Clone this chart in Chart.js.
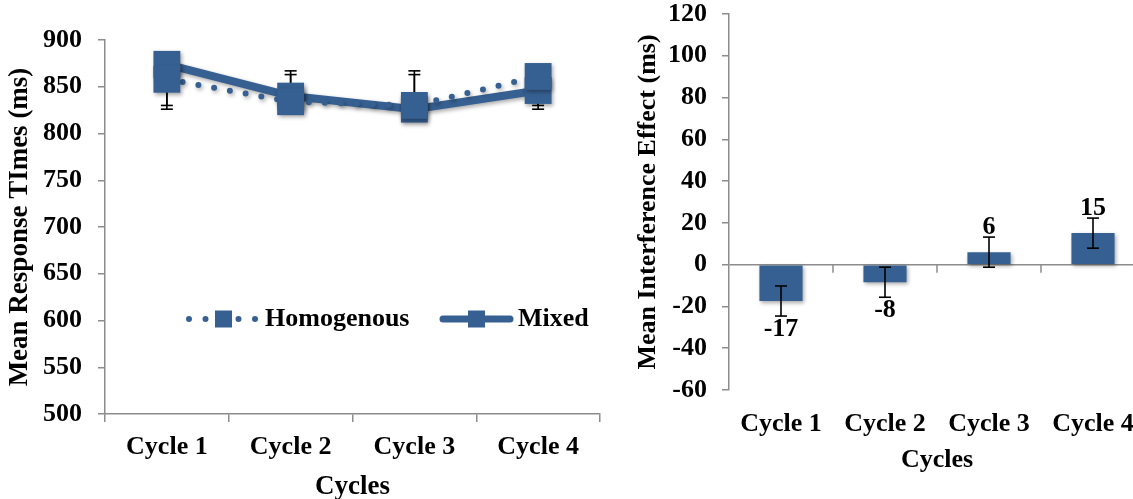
<!DOCTYPE html>
<html><head><meta charset="utf-8">
<script src="https://cdn.jsdelivr.net/npm/chart.js@4.4.0/dist/chart.umd.min.js"></script>
<style>
html,body{margin:0;padding:0;background:#fff;overflow:hidden;width:1133px;height:499px;}
#left{position:absolute;left:0;top:0;width:620px;height:499px;}
#right{position:absolute;left:620px;top:0;width:540px;height:499px;}
</style></head><body>
<div id="left"><canvas id="c1" width="620" height="499"></canvas></div>
<div id="right"><canvas id="c2" width="540" height="499"></canvas></div>
<script>
// ---- data ----
const categories = ['Cycle 1', 'Cycle 2', 'Cycle 3', 'Cycle 4'];
const seriesNames = ['Homogenous', 'Mixed'];
const homogenous = [858, 834, 830, 861];
const mixed = [874, 840, 826, 846];
const homogenousErr = [-28, 33, 33, -31];
const mixedErr = [-48, 23, 41, -20];
const rtTicks = [500, 550, 600, 650, 700, 750, 800, 850, 900];
const interference = [-17.4, -8.4, 6, 15.1];
const interferenceErr = [7.2, 7.2, 7.2, 7.2];
const ieTicks = [-60, -40, -20, 0, 20, 40, 60, 80, 100, 120];

const BLUE = '#376092';
const AXIS = '#8c8c8c';
const FONT = '"Liberation Serif", "Times New Roman", serif';
Chart.defaults.font.family = FONT;
Chart.defaults.font.size = 26;
Chart.defaults.font.weight = 'bold';
Chart.defaults.color = '#000';
Chart.defaults.animation = false;

const shadowPlugin = {
  id: 'shadow',
  beforeDatasetDraw(chart) {
    const c = chart.ctx; c.save();
    c.shadowColor = 'rgba(0,0,0,0.35)'; c.shadowBlur = 4; c.shadowOffsetX = 1.5; c.shadowOffsetY = 2;
  },
  afterDatasetDraw(chart) { chart.ctx.restore(); }
};

function cap(c, x, y, w) { c.beginPath(); c.moveTo(x - w / 2, y); c.lineTo(x + w / 2, y); c.stroke(); }
function noPad(s) { s.paddingTop = 0; s.paddingBottom = 0; s.paddingLeft = 0; s.paddingRight = 0; }

// ---- left chart ----
const lineErrPlugin = {
  id: 'lineErr',
  beforeDatasetsDraw(chart) {
    const c = chart.ctx, xs = chart.scales.x, ys = chart.scales.y;
    const errs = [homogenousErr, mixedErr];
    c.save(); c.strokeStyle = '#000'; c.lineWidth = 1.6;
    chart.data.datasets.forEach((ds, i) => {
      ds.data.forEach((v, j) => {
        const x = xs.getPixelForValue(j);
        const y0 = ys.getPixelForValue(v), y1 = ys.getPixelForValue(v + errs[i][j]);
        c.beginPath(); c.moveTo(x, y0); c.lineTo(x, y1); c.stroke();
        cap(c, x, y1, 12);
      });
    });
    c.restore();
  }
};
const legendPlugin = {
  id: 'customLegend',
  afterDraw(chart) {
    const c = chart.ctx, a = chart.chartArea;
    const y = a.top + 279;
    const L = a.left - 6;
    c.save();
    // Homogenous
    c.strokeStyle = BLUE; c.fillStyle = BLUE; c.lineCap = 'round';
    c.lineWidth = 6; c.setLineDash([0, 16.5]);
    c.beginPath(); c.moveTo(L + 90, y); c.lineTo(L + 158, y); c.stroke();
    c.setLineDash([]);
    c.fillRect(L + 116, y - 8.5, 17, 17);
    c.fillStyle = '#000'; c.font = 'bold 26px ' + FONT; c.textBaseline = 'middle'; c.textAlign = 'left';
    c.fillText(chart.data.datasets[0].label, L + 166, y);
    // Mixed
    c.strokeStyle = BLUE; c.fillStyle = BLUE; c.lineWidth = 7;
    c.beginPath(); c.moveTo(L + 344, y); c.lineTo(L + 411, y); c.stroke();
    c.fillRect(L + 369, y - 8.5, 17, 17);
    c.fillStyle = '#000';
    c.fillText(chart.data.datasets[1].label, L + 419, y);
    c.restore();
  }
};

new Chart(document.getElementById('c1'), {
  type: 'line',
  data: {
    labels: categories,
    datasets: [
      { label: seriesNames[0], data: homogenous, borderColor: BLUE, backgroundColor: BLUE,
        borderWidth: 6, borderDash: [0, 16], borderCapStyle: 'round', fill: false, tension: 0,
        pointStyle: 'rect', pointRadius: 19, pointBorderWidth: 0, pointBackgroundColor: BLUE },
      { label: seriesNames[1], data: mixed, borderColor: BLUE, backgroundColor: BLUE,
        borderWidth: 8, fill: false, tension: 0, borderCapStyle: 'round',
        pointStyle: 'rect', pointRadius: 19, pointBorderWidth: 0, pointBackgroundColor: BLUE }
    ]
  },
  options: {
    responsive: false,
    layout: { padding: { left: 0, right: 20, top: 40, bottom: 0 } },
    plugins: { legend: { display: false }, tooltip: { enabled: false } },
    scales: {
      x: {
        offset: true,
        grid: { offset: true, drawOnChartArea: false, tickLength: 8, color: AXIS, lineWidth: 1.5 },
        border: { color: AXIS, width: 1.5 },
        ticks: { padding: 10, font: { size: 26, weight: 'bold' } },
        title: { display: true, text: 'Cycles', font: { size: 27, weight: 'bold', lineHeight: 0.9 }, padding: { top: 0, bottom: 0 } },
        afterFit(s) { s.height = 85; noPad(s); }
      },
      y: {
        min: rtTicks[0], max: rtTicks[rtTicks.length - 1],
        ticks: { stepSize: rtTicks[1] - rtTicks[0], padding: 16, font: { size: 26, weight: 'bold' } },
        grid: { drawOnChartArea: false, tickLength: 7, color: AXIS, lineWidth: 1.5 },
        border: { color: AXIS, width: 1.5 },
        title: { display: true, text: 'Mean Response TImes (ms)', font: { size: 27, weight: 'bold', lineHeight: 1 }, padding: { top: 7, bottom: 0 } },
        afterFit(s) { s.width = 105; noPad(s); }
      }
    }
  },
  plugins: [lineErrPlugin, shadowPlugin, legendPlugin]
});

// ---- right chart ----
const barExtrasPlugin = {
  id: 'barExtras',
  beforeDatasetsDraw(chart) {
    const c = chart.ctx, xs = chart.scales.x, ys = chart.scales.y;
    const y0 = ys.getPixelForValue(0);
    const step = xs.getPixelForValue(1) - xs.getPixelForValue(0);
    c.save(); c.strokeStyle = AXIS; c.lineWidth = 1.5;
    for (let i = 0; i < categories.length; i++) {
      const bx = xs.getPixelForValue(i) + step / 2;
      c.beginPath(); c.moveTo(bx, y0); c.lineTo(bx, y0 + 8); c.stroke();
    }
    c.restore();
  },
  afterDatasetsDraw(chart) {
    const c = chart.ctx, xs = chart.scales.x, ys = chart.scales.y;
    c.save(); c.strokeStyle = '#000'; c.lineWidth = 1.6;
    interference.forEach((v, j) => {
      const x = xs.getPixelForValue(j);
      const yt = ys.getPixelForValue(v + interferenceErr[j]), yb = ys.getPixelForValue(v - interferenceErr[j]);
      c.beginPath(); c.moveTo(x, yt); c.lineTo(x, yb); c.stroke();
      cap(c, x, yt, 12); cap(c, x, yb, 12);
    });
    c.fillStyle = '#000'; c.font = 'bold 26px ' + FONT; c.textAlign = 'center'; c.textBaseline = 'middle';
    interference.forEach((v, j) => {
      const x = xs.getPixelForValue(j);
      const ye = ys.getPixelForValue(v);
      c.fillText(String(Math.round(v)), x, v < 0 ? ye + 28 : ye - 25);
    });
    c.restore();
  }
};

new Chart(document.getElementById('c2'), {
  type: 'bar',
  data: {
    labels: categories,
    datasets: [{ label: 'Interference', data: interference, backgroundColor: BLUE, borderWidth: 0,
      barPercentage: 0.415, categoryPercentage: 1 }]
  },
  options: {
    responsive: false,
    layout: { padding: { left: 0, right: 15, top: 14, bottom: 0 } },
    plugins: { legend: { display: false }, tooltip: { enabled: false } },
    scales: {
      x: {
        grid: { display: false },
        border: { display: false },
        ticks: { padding: 11, font: { size: 26, weight: 'bold' } },
        title: { display: true, text: 'Cycles', font: { size: 26, weight: 'bold', lineHeight: 1 }, padding: { top: 0, bottom: 26 } },
        afterFit(s) { s.height = 109; noPad(s); }
      },
      y: {
        min: ieTicks[0], max: ieTicks[ieTicks.length - 1],
        ticks: { stepSize: ieTicks[1] - ieTicks[0], padding: 15, font: { size: 26, weight: 'bold' } },
        grid: { drawOnChartArea: true, tickLength: 7, lineWidth: 1.5, tickColor: AXIS,
          color: (ctx) => (ctx.tick && ctx.tick.value === 0) ? AXIS : 'rgba(0,0,0,0)' },
        border: { color: AXIS, width: 1.5 },
        title: { display: true, text: 'Mean Interference Effect (ms)', font: { size: 26, weight: 'bold', lineHeight: 1 }, padding: { top: 15, bottom: 0 } },
        afterFit(s) { s.width = 109; noPad(s); }
      }
    }
  },
  plugins: [shadowPlugin, barExtrasPlugin]
});
</script>
</body></html>
